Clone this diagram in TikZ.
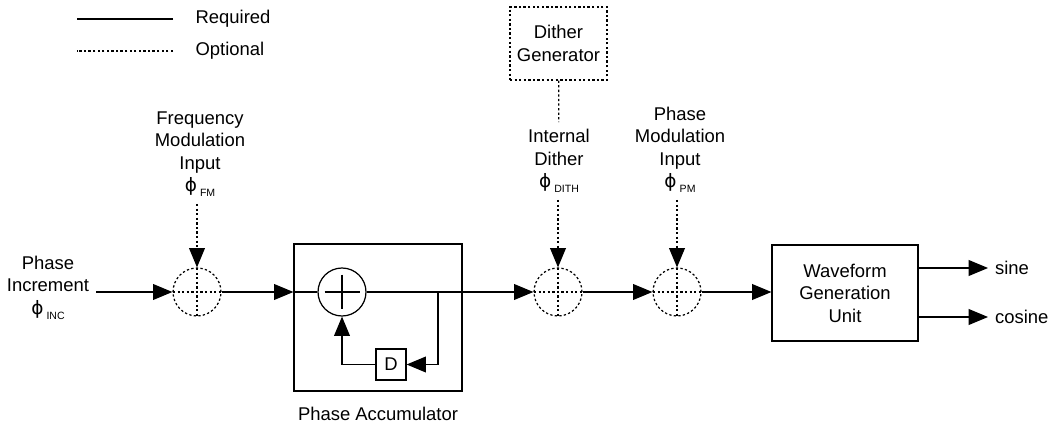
\documentclass[tikz,border=0pt]{standalone}
\usepackage{fontspec}
\setmainfont{Liberation Sans}
\newfontfamily\grkfont{DejaVu Sans}
\usepackage{tikz}
\usetikzlibrary{arrows.meta,shapes,positioning}
\newcommand{\phisub}[1]{{\grkfont ϕ}\,\raisebox{-0.55ex}{\fontsize{6}{6}\selectfont #1}}
\tikzstyle{arrow} = [->,>={Triangle[length=11pt,width=9pt]}]
\tikzstyle{opt} = [dash pattern=on 1.3pt off 1.3pt]
\tikzstyle{sumnode} = [circle, draw, minimum size=0.96cm, inner sep=0pt]
\tikzstyle{optsum} = [sumnode, opt, path picture={\draw[opt] (path picture bounding box.north) -- (path picture bounding box.south) (path picture bounding box.west) -- (path picture bounding box.east);}]
\tikzstyle{addsum} = [sumnode, path picture={\draw ([yshift=0.35cm]path picture bounding box.center) -- ([yshift=-0.35cm]path picture bounding box.center) ([xshift=-0.35cm]path picture bounding box.center) -- ([xshift=0.35cm]path picture bounding box.center);}]
\tikzstyle{blocknode} = [rectangle, draw, align=center, inner sep=0pt]
\tikzstyle{lbl} = [align=center, inner sep=0pt, outer sep=4pt]

\begin{document}
\begin{tikzpicture}[x=0.02cm, y=-0.02cm, line width=0.7pt, font=\fontsize{10.5}{12.8}\selectfont]
\useasboundingbox (0,0) rectangle (1053,425);

% Legend
\node[anchor=west, inner sep=0pt] (legreq) at (195,19) {Required};
\node[anchor=west, inner sep=0pt] (legopt) at (195,51) {Optional};
\draw (legreq.west) ++(-22,0) -- ++(-96,0);
\draw[opt] (legopt.west) ++(-22,0) -- ++(-96,0);

% Main chain
\node[lbl, anchor=east] (inc) at (96,288) {Phase\\Increment\\\phisub{INC}};
\node[optsum] (fmsum) at (197,292) {};
\node[blocknode, minimum width=3.36cm, minimum height=2.94cm] (acc) at (378,317.5) {};
\node[addsum] (adder) at (342,292) {};
\node[blocknode, minimum width=0.6cm, minimum height=0.62cm] (dly) at (391,364.5) {D};
\coordinate (tap) at (438,292);
\node[optsum] (dithsum) at (558,292) {};
\node[optsum] (pmsum) at (677,292) {};
\node[blocknode, minimum width=2.92cm, minimum height=1.92cm] (wgu) at (845,293) {Waveform\\Generation\\Unit};
\node[lbl, anchor=west] (sine) at (988,268) {sine};
\node[lbl, anchor=west] (cosine) at (988,317) {cosine};
\node[inner sep=0pt, below=0.3cm of acc] (acclbl) {Phase Accumulator};

% Inputs
\node[lbl, anchor=south] (fmlbl) at (200,204) {Frequency\\Modulation\\Input\\\phisub{FM}};
\node[blocknode, opt, minimum width=1.94cm, minimum height=1.46cm] (dgen) at (558.5,43.5) {Dither\\Generator};
\node[lbl, anchor=south] (dithlbl) at (559,200) {Internal\\Dither\\\phisub{DITH}};
\node[lbl, anchor=south] (pmlbl) at (680,200) {Phase\\Modulation\\Input\\\phisub{PM}};

\draw[arrow] (inc.east |- fmsum) -- (fmsum);
\draw[arrow] (fmsum) -- (acc.west |- fmsum);
\draw (acc.west |- adder) -- (adder);
\draw[arrow] (adder) -- (dithsum);
\draw[arrow] (tap) |- (dly);
\draw[arrow] (dly) -| (adder);
\draw[arrow] (dithsum) -- (pmsum);
\draw[arrow] (pmsum) -- (wgu.west |- pmsum);
\draw[arrow] (wgu.east |- sine) -- (sine);
\draw[arrow] (wgu.east |- cosine) -- (cosine);

\draw[arrow, opt] (fmsum |- fmlbl.south) -- (fmsum);
\draw[opt] (dgen) -- (dithlbl);
\draw[arrow, opt] (dithsum |- dithlbl.south) -- (dithsum);
\draw[arrow, opt] (pmsum |- pmlbl.south) -- (pmsum);
\end{tikzpicture}
\end{document}
